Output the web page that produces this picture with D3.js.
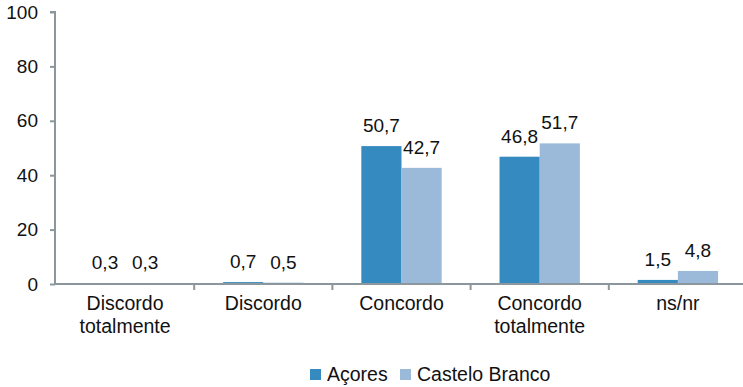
<!DOCTYPE html>
<html>
<head>
<meta charset="utf-8">
<script src="https://cdn.jsdelivr.net/npm/d3@7"></script>
<style>
  html, body { margin: 0; padding: 0; background: #fff; }
  svg { display: block; font-family: "Liberation Sans", Arial, sans-serif; }
</style>
</head>
<body>
<svg id="chart" width="743" height="387"></svg>
<script>
// Categories and responses (%)
const categories = [["Discordo", "totalmente"], ["Discordo"], ["Concordo"], ["Concordo", "totalmente"], ["ns/nr"]];
const seriesNames = ["Açores", "Castelo Branco"];
const acores = [0.3, 0.7, 50.7, 46.8, 1.5];
const casteloBranco = [0.3, 0.5, 42.7, 51.7, 4.8];
const yTicks = [0, 20, 40, 60, 80, 100];
const colors = ["#358bbf", "#9bb9d9"];

const fmt = v => d3.format(".1f")(v).replace(".", ",");

const svg = d3.select("#chart");
const axisColor = "#8c979d";
const fontSize = 19;

const x0 = d3.scaleBand()
  .domain(d3.range(categories.length))
  .range([56, 747])
  .paddingInner(0)
  .paddingOuter(0);

const x1 = d3.scaleBand()
  .domain(seriesNames)
  .range([0, x0.bandwidth()])
  .paddingInner(0)
  .paddingOuter(0.72);

const y = d3.scaleLinear().domain([0, 100]).range([284, 12]);

const data = categories.map((c, i) => ({ i, values: [acores[i], casteloBranco[i]] }));

// Bars
const groups = svg.append("g").selectAll("g")
  .data(data).join("g")
  .attr("transform", d => `translate(${x0(d.i)},0)`);

groups.selectAll("rect")
  .data(d => d.values.map((v, k) => ({ v, k })))
  .join("rect")
  .attr("x", d => x1(seriesNames[d.k]))
  .attr("y", d => y(d.v))
  .attr("width", x1.bandwidth())
  .attr("height", d => y(0) - y(d.v))
  .attr("fill", d => colors[d.k]);

// Value labels
groups.selectAll("text")
  .data(d => d.values.map((v, k) => ({ v, k })))
  .join("text")
  .attr("x", d => x1(seriesNames[d.k]) + x1.bandwidth() / 2)
  .attr("y", d => y(d.v) - 14)
  .attr("text-anchor", "middle")
  .attr("font-size", fontSize)
  .attr("fill", "#111")
  .text(d => fmt(d.v));

// Y axis
const yAxis = svg.append("g")
  .attr("transform", "translate(55,0)")
  .call(d3.axisLeft(y).tickValues(yTicks).tickSize(5).tickPadding(12).tickFormat(d3.format("d")));
yAxis.select(".domain").attr("stroke", axisColor).attr("stroke-width", 2).attr("d", `M-5,${y(100)}H0V${y(0)}`);
yAxis.selectAll(".tick line").attr("stroke", axisColor).attr("stroke-width", 2);
yAxis.selectAll(".tick text").attr("font-size", fontSize).attr("fill", "#111")
  .attr("font-family", "Liberation Sans, Arial, sans-serif");

// X axis line and category separators
svg.append("line")
  .attr("x1", 55).attr("x2", 743)
  .attr("y1", y(0)).attr("y2", y(0))
  .attr("stroke", axisColor).attr("stroke-width", 2);

svg.append("g").selectAll("line")
  .data(d3.range(1, categories.length))
  .join("line")
  .attr("x1", i => x0(i)).attr("x2", i => x0(i))
  .attr("y1", y(0)).attr("y2", y(0) + 6)
  .attr("stroke", axisColor).attr("stroke-width", 2);

// Category labels
const catText = svg.append("g").selectAll("text")
  .data(categories)
  .join("text")
  .attr("x", (c, i) => x0(i) + x0.bandwidth() / 2)
  .attr("y", 310)
  .attr("text-anchor", "middle")
  .attr("font-size", 19.5)
  .attr("fill", "#111");
catText.selectAll("tspan")
  .data(d => d)
  .join("tspan")
  .attr("x", function () { return this.parentNode.getAttribute("x"); })
  .attr("dy", (d, k) => k === 0 ? 0 : 23)
  .text(d => d);

// Legend
const legendItems = [
  { name: seriesNames[0], x: 310 },
  { name: seriesNames[1], x: 400 }
];
const legend = svg.append("g").selectAll("g")
  .data(legendItems).join("g")
  .attr("transform", d => `translate(${d.x},369)`);
legend.append("rect")
  .attr("width", 11).attr("height", 11)
  .attr("fill", (d, k) => colors[k]);
legend.append("text")
  .attr("x", 17).attr("y", 12)
  .attr("font-size", 19.5)
  .attr("fill", "#111")
  .text(d => d.name);
</script>
</body>
</html>
